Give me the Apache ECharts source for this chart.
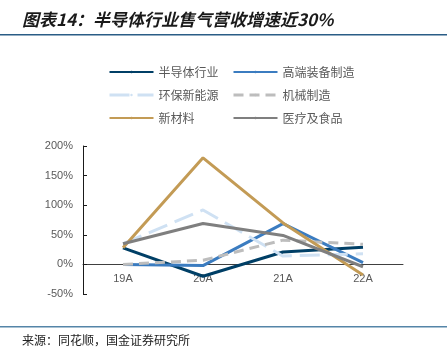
<!DOCTYPE html>
<html><head><meta charset="utf-8">
<script src="https://cdn.jsdelivr.net/npm/echarts@6/dist/echarts.min.js"></script>
<style>html,body{margin:0;padding:0;background:#fff}#c{width:447px;height:358px}</style>
</head><body><div id="c"></div>
<script>
const categories = ['19A','20A','21A','22A'];
const semi = [28, -20, 21, 29];
const equip = [0, -2, 69, 3];
const newEnergy = [35, 92, 14, 18];
const machinery = [0, 7, 41, 34];
const materials = [28, 180, 70, -18];
const medFood = [35, 69, 49, -4];
const yTicks = [-50, 0, 50, 100, 150, 200];

const chart = echarts.init(document.getElementById('c'));
const txt = '#595959';
const dashNE = [20, 8];
const dashMach = [10, 6];
function ser(name, data, color, dash) {
  return {name, type:'line', data, symbol:'none', z: 3,
    lineStyle:{color, width:3, type: dash || 'solid'},
    itemStyle:{color}};
}
function li(name, dash) {
  return dash ? {name, lineStyle:{type: dash, width:3}} : {name};
}
const legTxt = {color:txt, fontSize:12, fontFamily:'Noto Sans CJK SC'};
chart.setOption({
  animation:false,
  graphic:[
    {type:'text', left:22, top:11, style:{text:'图表14：半导体行业售气营收增速近30%', font:'italic bold 17px "Noto Sans CJK SC"', fill:'#1a1a1a'}},
    {type:'rect', shape:{x:0,y:34,width:447,height:1.5}, style:{fill:'#2a5d86'}},
    {type:'rect', shape:{x:0,y:326,width:447,height:1.5}, style:{fill:'#5585a8'}},
    {type:'text', left:22, top:334, style:{text:'来源：同花顺，国金证券研究所', font:'12px "Noto Sans CJK SC"', fill:'#222'}}
  ],
  legend:[
    {left:103, top:61, orient:'vertical', itemWidth:44, itemHeight:3, itemGap:11,
     data:[li('半导体行业'), li('环保新能源', dashNE), li('新材料')], textStyle:legTxt},
    {left:227, top:61, orient:'vertical', itemWidth:44, itemHeight:3, itemGap:11,
     data:[li('高端装备制造'), li('机械制造', dashMach), li('医疗及食品')], textStyle:legTxt}
  ],
  grid:{left:83, right:44, top:146, bottom:64},
  xAxis:{type:'category', data:categories, boundaryGap:true, position:'bottom', offset:-29.6,
    axisLine:{onZero:false, lineStyle:{color:'#404040', width:1}},
    axisTick:{inside:true, length:4, lineStyle:{color:'#404040'}},
    axisLabel:{color:txt, fontSize:11, margin:9, fontFamily:'Liberation Sans'}},
  yAxis:{type:'value', min:-50, max:200, interval:50,
    axisLine:{show:true, lineStyle:{color:'#1a1a1a', width:1}},
    axisTick:{show:true, inside:true, length:4, lineStyle:{color:'#1a1a1a'}},
    splitLine:{show:false},
    axisLabel:{color:txt, fontSize:11, margin:10, fontFamily:'Liberation Sans', formatter: v => yTicks.includes(v) ? v + '%' : ''}},
  series:[
    ser('半导体行业', semi, '#003f66'),
    ser('高端装备制造', equip, '#3b7cc0'),
    ser('环保新能源', newEnergy, '#cfe1f3', dashNE),
    ser('机械制造', machinery, '#bdbdbd', dashMach),
    ser('新材料', materials, '#c39b55'),
    ser('医疗及食品', medFood, '#7f7f7f')
  ]
});
</script></body></html>
